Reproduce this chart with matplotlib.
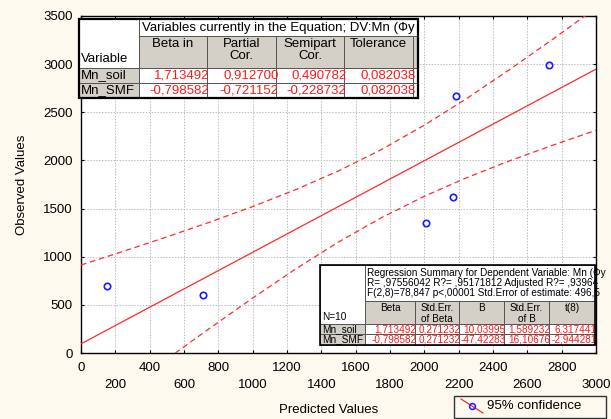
import matplotlib
matplotlib.use("Agg")
import matplotlib.pyplot as plt
from matplotlib.patches import Rectangle
from matplotlib.lines import Line2D

plt.rcParams['font.family'] = ['Liberation Sans', 'DejaVu Sans']

# ---------------- data ----------------
pred = [150, 710, 2010, 2165, 2185, 2725]
obs = [700, 600, 1350, 1620, 2670, 2990]
fit_x = [0, 3000]
fit_y = [95, 2948]
band_x = [0, 250, 500, 750, 1000, 1250, 1500, 1750, 2000, 2250, 2500, 2750, 3000]
band_up = [914, 1058, 1206, 1359, 1521, 1696, 1891, 2113, 2366, 2647, 2948, 3261, 3583]
band_lo = [-724, -392, -64, 257, 571, 872, 1153, 1405, 1628, 1823, 1998, 2159, 2313]
xticks_a = [0, 400, 800, 1200, 1600, 2000, 2400, 2800]
xticks_b = [200, 600, 1000, 1400, 1800, 2200, 2600, 3000]
yticks = [0, 500, 1000, 1500, 2000, 2500, 3000, 3500]

top_title = "Variables currently in the Equation; DV:Mn (Фу"
top_corner = "Variable"
top_cols = ["Beta in", "Partial\nCor.", "Semipart\nCor.", "Tolerance"]
top_rows = ["Mn_soil", "Mn_SMF"]
top_vals = [["1,713492", "0,912700", "0,490782", "0,082038"],
            ["-0,798582", "-0,721152", "-0,228732", "0,082038"]]

bot_title = ["Regression Summary for Dependent Variable: Mn (Фу",
             "R= ,97556042 R?= ,95171812 Adjusted R?= ,93964",
             "F(2,8)=78,847 p<,00001 Std.Error of estimate: 496,5"]
bot_corner = "N=10"
bot_cols = ["Beta", "Std.Err.\nof Beta", "B", "Std.Err.\nof B", "t(8)"]
bot_rows = ["Mn_soil", "Mn_SMF"]
bot_vals = [["1,713492", "0,271232", "10,03995", "1,589232", "6,317441"],
            ["-0,798582", "0,271232", "-47,42283", "16,10676", "-2,944281"]]

legend_label = "95% confidence"

# ---------------- figure ----------------
W, H = 611, 419
BG = '#fdf9ee'
GRAY = '#d4d0c8'
RED = '#ff2a2a'
fig = plt.figure(figsize=(W / 100, H / 100), dpi=100, facecolor=BG)

L, R, T, B = 81, 596, 16, 353
ax = fig.add_axes([L / W, (H - B) / H, (R - L) / W, (B - T) / H])
ax.set_facecolor('white')
ax.set_xlim(0, 3000)
ax.set_ylim(0, 3500)

ax.plot(fit_x, fit_y, color=RED, lw=0.9, zorder=3)
ax.plot(band_x, band_up, color=RED, lw=0.9, dashes=(4.5, 3), zorder=3)
ax.plot(band_x, band_lo, color=RED, lw=0.9, dashes=(4.5, 3), zorder=3)
ax.plot(pred, obs, 'o', mfc='none', mec='#1a1aff', ms=4.6, mew=1.2, zorder=4)

ax.set_xticks(xticks_a)
ax.set_xticks(xticks_b, minor=True)
ax.set_xticklabels([str(v) for v in xticks_a])
ax.set_xticklabels([str(v) for v in xticks_b], minor=True)
ax.set_yticks(yticks)
ax.set_yticklabels([str(v) for v in yticks])
ax.tick_params(axis='both', which='both', direction='in', length=2.5, width=0.8,
               top=True, right=True, labelsize=9.5, colors='black')
ax.tick_params(axis='x', which='major', pad=6.5)
ax.tick_params(axis='x', which='minor', pad=19.0)
ax.tick_params(axis='y', pad=6)
ax.grid(True, which='both', color='#bdbdbd', lw=0.7, dashes=(1.5, 1.5))
ax.set_axisbelow(True)
for s in ax.spines.values():
    s.set_linewidth(1.0)
    s.set_color('black')

fig.text(329 / W, 1 - 410 / H, "Predicted Values", ha='center', va='center', fontsize=9.5)
fig.text(22 / W, 1 - 185 / H, "Observed Values", ha='center', va='center',
         rotation=90, fontsize=9.5)

# ---------------- overlay (pixel coords) ----------------
ov = fig.add_axes([0, 0, 1, 1], zorder=10)
ov.set_xlim(0, W)
ov.set_ylim(H, 0)
ov.axis('off')
ov.patch.set_alpha(0)


def cell(x0, y0, x1, y1, fc, ec='#555555', lw=0.7):
    ov.add_patch(Rectangle((x0, y0), x1 - x0, y1 - y0, fc=fc, ec=ec, lw=lw, zorder=1))


def ctext(x, y, s, x0, y0, x1, y1, **kw):
    t = ov.text(x, y, s, zorder=3, **kw)
    clip = Rectangle((x0 + 0.5, y0), x1 - x0 - 1.5, y1 - y0, transform=ov.transData,
                     fc='none', ec='none')
    t.set_clip_path(clip)
    return t


# ---- upper table ----
tx = [79, 139, 207, 276, 344, 413, 418]
ty = [19, 36, 68, 83, 98]
fs1 = 9.5
cell(tx[0], ty[0], tx[1], ty[2], 'white')
ctext(tx[0] + 2, 59, top_corner, tx[0], ty[0], tx[1], ty[2], ha='left', va='center', fontsize=fs1)
cell(tx[1], ty[0], tx[-1], ty[1], 'white')
ctext(tx[1] + 3, 27.5, top_title, tx[1], ty[0], tx[-1], ty[1], ha='left', va='center', fontsize=fs1)
for j in range(len(top_cols)):
    cell(tx[j + 1], ty[1], tx[j + 2], ty[2], GRAY)
    ctext((tx[j + 1] + tx[j + 2]) / 2, ty[1] + 2, top_cols[j], tx[j + 1], ty[1], tx[j + 2], ty[2],
          ha='center', va='top', fontsize=fs1, linespacing=1.0)
cell(tx[5], ty[1], tx[6], ty[2], GRAY)
for i in range(len(top_rows)):
    y0, y1 = ty[i + 2], ty[i + 3]
    cell(tx[0], y0, tx[1], y1, GRAY)
    ctext(tx[0] + 2, (y0 + y1) / 2, top_rows[i], tx[0], y0, tx[1], y1,
          ha='left', va='center', fontsize=fs1)
    for j in range(len(top_vals[i])):
        cell(tx[j + 1], y0, tx[j + 2], y1, 'white')
        ctext(tx[j + 2] + 2.5, (y0 + y1) / 2, top_vals[i][j], tx[j + 1], y0, tx[j + 2], y1,
              ha='right', va='center', fontsize=fs1, color='#ff1a1a')
    cell(tx[5], y0, tx[6], y1, 'white')
ov.add_patch(Rectangle((tx[0], ty[0]), tx[-1] - tx[0], ty[-1] - ty[0], fc='none',
                       ec='black', lw=1.6, zorder=4))

# ---- lower table ----
bx = [320, 365, 415, 459, 504, 549, 595]
by = [265, 301, 324, 334, 345]
fs2 = 7.2
cell(bx[0], by[0], bx[1], by[2], 'white')
ctext(bx[0] + 2, 317, bot_corner, bx[0], by[0], bx[1], by[2], ha='left', va='center', fontsize=fs2)
cell(bx[1], by[0], bx[-1], by[1], 'white')
for k, line in enumerate(bot_title):
    ctext(bx[1] + 2, 273 + 10 * k, line, bx[1], by[0], bx[-1], by[1],
          ha='left', va='center', fontsize=fs2)
for j in range(len(bot_cols)):
    cell(bx[j + 1], by[1], bx[j + 2], by[2], GRAY)
    ctext((bx[j + 1] + bx[j + 2]) / 2, by[1] + 1.5, bot_cols[j], bx[j + 1], by[1], bx[j + 2], by[2],
          ha='center', va='top', fontsize=fs2, linespacing=1.15)
for i in range(len(bot_rows)):
    y0, y1 = by[i + 2], by[i + 3]
    cell(bx[0], y0, bx[1], y1, GRAY)
    ctext(bx[0] + 2, (y0 + y1) / 2, bot_rows[i], bx[0], y0, bx[1], y1,
          ha='left', va='center', fontsize=fs2)
    for j in range(len(bot_vals[i])):
        cell(bx[j + 1], y0, bx[j + 2], y1, 'white')
        ctext(bx[j + 2] + 1.5, (y0 + y1) / 2, bot_vals[i][j], bx[j + 1], y0, bx[j + 2], y1,
              ha='right', va='center', fontsize=fs2, color='#ff1a1a')
ov.add_patch(Rectangle((bx[0], by[0]), bx[-1] - bx[0], by[-1] - by[0], fc='none',
                       ec='black', lw=1.2, zorder=4))

# ---- legend ----
ov.add_patch(Rectangle((454, 396), 152, 22, fc=BG, ec='#333333', lw=1.0, zorder=1))
ov.add_line(Line2D([461, 483], [399, 413], color=RED, lw=0.9, zorder=3))
ov.add_line(Line2D([472], [406], marker='o', mfc='none', mec='#1a1aff', ms=4.2, mew=1.1, zorder=4))
ov.text(487, 406, legend_label, ha='left', va='center', fontsize=9.5, zorder=3)

fig.savefig("out.png", dpi=100, facecolor=BG)
